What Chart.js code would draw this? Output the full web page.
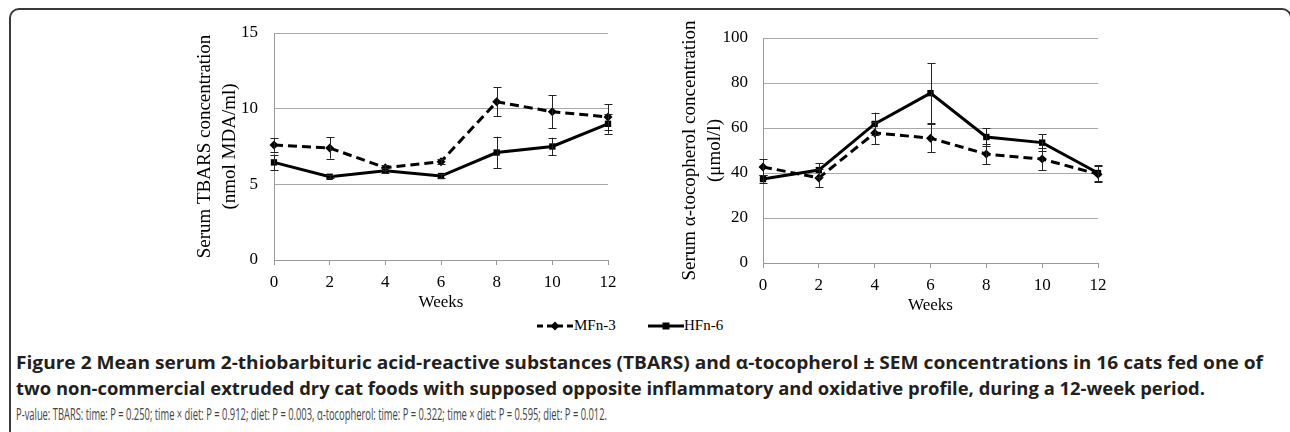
<!DOCTYPE html>
<html><head><meta charset="utf-8">
<script src="https://cdn.jsdelivr.net/npm/chart.js@4.4.0/dist/chart.umd.min.js"></script>
<style>
html,body{margin:0;padding:0;background:#fff;}
body{width:1290px;height:432px;overflow:hidden;position:relative;font-family:"Liberation Serif","Times New Roman",serif;}
#frame{position:absolute;left:9px;top:8px;width:1283px;height:480px;border:2px solid #3a3a3a;border-radius:10px;box-sizing:border-box;}
canvas{position:absolute;top:0;}
#c1{left:180px;}
#c2{left:665px;}
.cap{position:absolute;left:16px;white-space:nowrap;transform-origin:0 0;line-height:1;font-family:"Open Sans",sans-serif;}
.b{font-weight:700;font-size:17.5px;color:#231f20;}
.r{font-weight:400;font-size:17px;color:#444;}
#legend{position:absolute;left:536px;top:316px;height:20px;font-size:15px;color:#000;white-space:nowrap;}
#legend span{position:absolute;top:1px;}
#legend svg{position:absolute;top:0;}
</style>
</head><body>
<div id="frame"></div>
<canvas id="c1" width="448" height="313"></canvas>
<canvas id="c2" width="453" height="316"></canvas>
<div id="legend">
  <svg style="left:0" width="38" height="20"><line x1="1" y1="10" x2="37" y2="10" stroke="#000" stroke-width="3" stroke-dasharray="6,4"/><path d="M19 5.5 L23.5 10 L19 14.5 L14.5 10 Z" fill="#000"/></svg>
  <span style="left:38px">MFn-3</span>
  <svg style="left:112px" width="36" height="20"><line x1="0" y1="10" x2="36" y2="10" stroke="#000" stroke-width="3"/><rect x="14.5" y="6.5" width="7" height="7" fill="#000"/></svg>
  <span style="left:148px">HFn-6</span>
</div>
<div class="cap b" id="l1">Figure 2 Mean serum 2-thiobarbituric acid-reactive substances (TBARS) and α-tocopherol ± SEM concentrations in 16 cats fed one of</div>
<div class="cap b" id="l2">two non-commercial extruded dry cat foods with supposed opposite inflammatory and oxidative profile, during a 12-week period.</div>
<div class="cap r" id="l3">P-value: TBARS: time: P = 0.250; time × diet: P = 0.912; diet: P = 0.003, α-tocopherol: time: P = 0.322; time × diet: P = 0.595; diet: P = 0.012.</div>
<script>
// ---- data ----
const weeks = [0, 2, 4, 6, 8, 10, 12];
const seriesNames = ["MFn-3", "HFn-6"];
const tbarsMFn3 = [7.6, 7.4, 6.1, 6.5, 10.45, 9.8, 9.45];
const tbarsMFn3Sem = [0.45, 0.7, 0.15, 0.15, 0.95, 1.1, 0.85];
const tbarsHFn6 = [6.45, 5.5, 5.9, 5.55, 7.1, 7.5, 9.0];
const tbarsHFn6Sem = [0.5, 0.1, 0.15, 0.1, 1.05, 0.58, 0.65];
const tocoMFn3 = [42.7, 37.8, 57.8, 55.5, 48.4, 46.2, 39.5];
const tocoMFn3Sem = [3.5, 4.0, 5.0, 6.2, 4.4, 4.9, 3.5];
const tocoHFn6 = [37.3, 41.3, 61.8, 75.5, 56.0, 53.5, 40.0];
const tocoHFn6Sem = [1.8, 3.0, 5.0, 13.3, 4.0, 3.8, 3.5];
const tbarsTicks = [0, 5, 10, 15];
const tocoTicks = [0, 20, 40, 60, 80, 100];

// ---- caption fitting ----
function fit(id, target){
  const el = document.getElementById(id);
  const w = el.getBoundingClientRect().width;
  el.style.transform = 'scaleX(' + (target / w) + ')';
}
function place(id, top){ document.getElementById(id).style.top = top + 'px'; }
place('l1', 353.5); place('l2', 379.5); place('l3', 405);
fit('l1', 1247); fit('l2', 1189); fit('l3', 591);

// ---- charts ----
const SERIF = '"Liberation Serif","Times New Roman",serif';
const errorBars = {
  id: 'errorBars',
  afterDatasetsDraw(chart){
    const ctx = chart.ctx, xs = chart.scales.x, ys = chart.scales.y;
    ctx.save();
    ctx.strokeStyle = '#222';
    ctx.lineWidth = 1;
    chart.data.datasets.forEach(ds => {
      ds.data.forEach((p, i) => {
        const e = ds.sem[i];
        const x = Math.round(xs.getPixelForValue(p.x)) + 0.5;
        const y1 = ys.getPixelForValue(p.y + e), y2 = ys.getPixelForValue(p.y - e);
        ctx.beginPath();
        ctx.moveTo(x, y1); ctx.lineTo(x, y2);
        ctx.moveTo(x - 4, Math.round(y1) + 0.5); ctx.lineTo(x + 4, Math.round(y1) + 0.5);
        ctx.moveTo(x - 4, Math.round(y2) + 0.5); ctx.lineTo(x + 4, Math.round(y2) + 0.5);
        ctx.stroke();
      });
    });
    ctx.restore();
  }
};
function pts(vals){ return weeks.map((w, i) => ({x: w, y: vals[i]})); }
function make(id, cfg){
  return new Chart(document.getElementById(id), {
    type: 'line',
    data: {
      datasets: [
        {label: seriesNames[0], data: pts(cfg.mf), sem: cfg.mfSem, borderColor: '#000', backgroundColor: '#000',
         borderWidth: 3, borderDash: [9, 5], pointStyle: 'rectRot', pointRadius: 4.5, pointBorderWidth: 0,
         pointBackgroundColor: '#000', tension: 0, clip: false},
        {label: seriesNames[1], data: pts(cfg.hf), sem: cfg.hfSem, borderColor: '#000', backgroundColor: '#000',
         borderWidth: 3, pointStyle: 'rect', pointRadius: 4.5, pointBorderWidth: 0,
         pointBackgroundColor: '#000', tension: 0, clip: false}
      ]
    },
    options: {
      responsive: false, animation: false, devicePixelRatio: 1,
      layout: {padding: {top: cfg.padTop, right: 20, left: 0, bottom: 0}},
      plugins: {legend: {display: false}, tooltip: {enabled: false}},
      scales: {
        x: {
          type: 'linear', min: 0, max: 12,
          afterBuildTicks: s => { s.ticks = weeks.map(v => ({value: v})); },
          ticks: {color: '#000', font: {family: SERIF, size: 17}, padding: 7},
          grid: {drawOnChartArea: false, drawTicks: true, tickLength: 5, color: '#999'},
          border: {display: true, color: '#999', width: 1},
          title: {display: true, text: 'Weeks', color: '#000', font: {family: SERIF, size: 17}, padding: {top: 0, bottom: 0}},
          afterFit: s => { s.height = 53; }
        },
        y: {
          type: 'linear', min: cfg.ticks[0], max: cfg.ticks[cfg.ticks.length - 1],
          afterBuildTicks: s => { s.ticks = cfg.ticks.map(v => ({value: v})); },
          ticks: {color: '#000', font: {family: SERIF, size: 17}, padding: cfg.tickPad},
          grid: {color: '#a8a8a8', drawTicks: false, lineWidth: 1},
          border: {display: true, color: '#999', width: 1},
          title: {display: true, text: cfg.title, color: '#000',
                  font: {family: SERIF, size: 19, lineHeight: 25 / 19}, padding: {top: 12.5, bottom: 0}},
          afterFit: s => { s.width = cfg.yWidth; }
        }
      }
    },
    plugins: [errorBars]
  });
}
make('c1', {mf: tbarsMFn3, mfSem: tbarsMFn3Sem, hf: tbarsHFn6, hfSem: tbarsHFn6Sem, ticks: tbarsTicks,
  title: ['Serum TBARS concentration', '(nmol MDA/ml)'], padTop: 33, yWidth: 94, tickPad: 16});
make('c2', {mf: tocoMFn3, mfSem: tocoMFn3Sem, hf: tocoHFn6, hfSem: tocoHFn6Sem, ticks: tocoTicks,
  title: ['Serum α-tocopherol concentration', '(μmol/l)'], padTop: 38, yWidth: 98, tickPad: 15});
</script>
</body></html>
